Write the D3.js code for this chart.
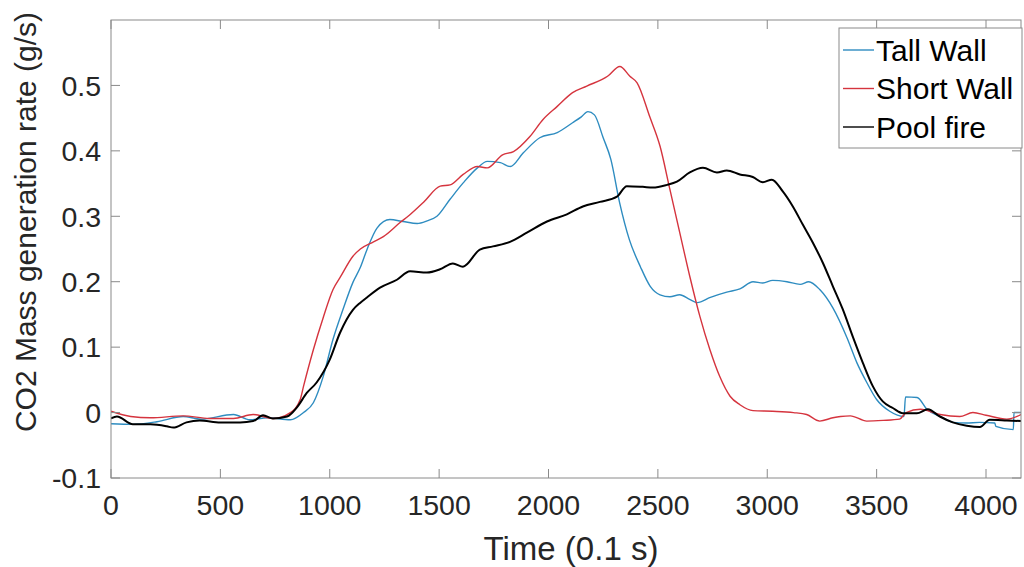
<!DOCTYPE html>
<html>
<head>
<meta charset="utf-8">
<script src="https://cdn.jsdelivr.net/npm/d3@7"></script>
<style>
  body { margin: 0; background: #fff; }
  svg { display: block; font-family: "Liberation Sans", Arial, sans-serif; }
</style>
</head>
<body>
<div id="chart"></div>
<script>
// time in 0.1 s, values in g/s
const tallTime = [0, 100, 210, 330, 410, 560, 635, 715, 820, 880,
  925, 970, 1015, 1060, 1106, 1140, 1170, 1216, 1275, 1335,
  1400, 1445, 1490, 1550, 1610, 1675, 1720, 1780, 1825, 1885,
  1960, 2040, 2110, 2150, 2180, 2210, 2250, 2285, 2325, 2370,
  2420, 2465, 2510, 2555, 2600, 2645, 2680, 2740, 2815, 2875,
  2935, 2980, 3025, 3090, 3150, 3190, 3240, 3300, 3365, 3410,
  3455, 3500, 3560, 3625, 3632, 3685, 3730, 3790, 3850, 3910,
  3970, 4040, 4045, 4125, 4128, 4160];
const tallWall = [-0.017, -0.018, -0.014, -0.006, -0.01, -0.003, -0.011, -0.008, -0.011, 0.0,
  0.015, 0.055, 0.112, 0.157, 0.199, 0.222, 0.249, 0.282, 0.295, 0.292,
  0.289, 0.293, 0.3, 0.326, 0.351, 0.374, 0.384, 0.382, 0.376, 0.397,
  0.42, 0.428, 0.443, 0.452, 0.46, 0.455, 0.42, 0.387, 0.321, 0.264,
  0.223, 0.193, 0.18, 0.177, 0.18, 0.173, 0.168, 0.176, 0.184, 0.189,
  0.2, 0.198, 0.202, 0.2, 0.196, 0.2, 0.188, 0.16, 0.114, 0.076,
  0.046, 0.02, 0.002, -0.006, 0.024, 0.023, 0.005, -0.006, -0.015, -0.016,
  -0.015, -0.016, -0.021, -0.026, 0.0, 0.0];

const shortTime = [0, 90, 180, 330, 450, 560, 650, 740, 820, 865,
  880, 925, 970, 1015, 1050, 1106, 1140, 1200, 1245, 1320,
  1365, 1430, 1505, 1550, 1610, 1675, 1720, 1790, 1840, 1915,
  1975, 2040, 2110, 2175, 2270, 2326, 2372, 2405, 2463, 2510,
  2555, 2600, 2646, 2692, 2738, 2783, 2830, 2875, 2935, 3025,
  3120, 3180, 3240, 3300, 3335, 3380, 3455, 3530, 3605, 3635,
  3700, 3790, 3880, 3940, 4000, 4095, 4160];
const shortWall = [0.002, -0.006, -0.008, -0.005, -0.009, -0.009, -0.003, -0.009, 0.0, 0.02,
  0.04, 0.096, 0.145, 0.188, 0.208, 0.239, 0.25, 0.261, 0.269, 0.29,
  0.302, 0.322, 0.346, 0.348, 0.364, 0.376, 0.374, 0.394, 0.399, 0.422,
  0.448, 0.468, 0.489, 0.499, 0.514, 0.529, 0.514, 0.504, 0.452, 0.407,
  0.341, 0.275, 0.208, 0.147, 0.096, 0.055, 0.025, 0.012, 0.003, 0.002,
  0.0, -0.003, -0.013, -0.008, -0.006, -0.005, -0.013, -0.012, -0.01, 0.0,
  0.005, -0.003, -0.006, 0.0, -0.004, -0.01, -0.003];

const poolTime = [0, 27, 100, 180, 255, 285, 345, 405, 500, 590,
  650, 695, 740, 805, 850, 895, 940, 1000, 1047, 1106,
  1140, 1170, 1230, 1307, 1367, 1444, 1504, 1563, 1609, 1686,
  1746, 1824, 1901, 1993, 2084, 2157, 2235, 2313, 2358, 2431,
  2477, 2541, 2587, 2646, 2706, 2770, 2815, 2875, 2934, 2980,
  3021, 3071, 3117, 3163, 3208, 3254, 3300, 3345, 3391, 3437,
  3483, 3528, 3574, 3620, 3684, 3734, 3789, 3848, 3912, 3972,
  4017, 4095, 4160];
const poolFire = [-0.009, -0.006, -0.018, -0.018, -0.021, -0.023, -0.015, -0.012, -0.015, -0.015,
  -0.013, -0.004, -0.009, -0.006, 0.008, 0.03, 0.046, 0.081, 0.122, 0.157,
  0.168, 0.176, 0.191, 0.203, 0.216, 0.214, 0.219, 0.228, 0.223, 0.249,
  0.254, 0.261, 0.275, 0.292, 0.303, 0.315, 0.322, 0.33, 0.346, 0.345,
  0.344, 0.348, 0.353, 0.367, 0.374, 0.367, 0.37, 0.364, 0.36, 0.352,
  0.356, 0.338, 0.315, 0.287, 0.26, 0.229, 0.193, 0.158, 0.116, 0.076,
  0.04, 0.017, 0.007, -0.001, -0.001, 0.005, -0.006, -0.015, -0.02, -0.022,
  -0.011, -0.012, -0.013];

const xTicks = [0, 500, 1000, 1500, 2000, 2500, 3000, 3500, 4000];
const yTicks = [-0.1, 0, 0.1, 0.2, 0.3, 0.4, 0.5];
const seriesNames = ["Tall Wall", "Short Wall", "Pool fire"];

const W = 1024, H = 567;
const plotLeft = 111, plotRight = 1021, plotTop = 20, plotBottom = 478;
const axisGrey = "#8a8a8a";

const svg = d3.select("#chart").append("svg")
  .attr("width", W)
  .attr("height", H);

const x = d3.scaleLinear().domain([0, 4160]).range([plotLeft, plotRight]);
const y = d3.scaleLinear().domain([-0.1, 0.6]).range([plotBottom, plotTop]);

// series lines
const series = [
  { name: seriesNames[0], t: tallTime, v: tallWall, color: "#2e8cc0", width: 1.4 },
  { name: seriesNames[1], t: shortTime, v: shortWall, color: "#d5343e", width: 1.4 },
  { name: seriesNames[2], t: poolTime, v: poolFire, color: "#000000", width: 2 }
];

const line = d3.line()
  .x(d => x(d[0]))
  .y(d => y(d[1]))
  .curve(d3.curveMonotoneX);

svg.append("defs").append("clipPath").attr("id", "plotclip")
  .append("rect")
  .attr("x", plotLeft).attr("y", plotTop)
  .attr("width", plotRight - plotLeft).attr("height", plotBottom - plotTop);

svg.append("g").attr("clip-path", "url(#plotclip)")
  .selectAll("path")
  .data(series)
  .join("path")
  .attr("fill", "none")
  .attr("stroke", d => d.color)
  .attr("stroke-width", d => d.width)
  .attr("stroke-linejoin", "round")
  .attr("d", d => line(d.t.map((t, i) => [t, d.v[i]])));

// box + inward ticks on all four sides
svg.append("rect")
  .attr("x", plotLeft).attr("y", plotTop)
  .attr("width", plotRight - plotLeft).attr("height", plotBottom - plotTop)
  .attr("fill", "none")
  .attr("stroke", axisGrey)
  .attr("stroke-width", 1);

const tickLen = 9;
const axes = svg.append("g").attr("stroke", axisGrey).attr("stroke-width", 1);
xTicks.forEach(t => {
  axes.append("line").attr("x1", x(t)).attr("x2", x(t)).attr("y1", plotBottom).attr("y2", plotBottom - tickLen);
  axes.append("line").attr("x1", x(t)).attr("x2", x(t)).attr("y1", plotTop).attr("y2", plotTop + tickLen);
});
yTicks.forEach(v => {
  axes.append("line").attr("x1", plotLeft).attr("x2", plotLeft + tickLen).attr("y1", y(v)).attr("y2", y(v));
  axes.append("line").attr("x1", plotRight).attr("x2", plotRight - tickLen).attr("y1", y(v)).attr("y2", y(v));
});

// tick labels
svg.append("g")
  .selectAll("text")
  .data(xTicks)
  .join("text")
  .attr("x", d => x(d))
  .attr("y", 515)
  .attr("text-anchor", "middle")
  .attr("fill", "#262626")
  .style("font-size", "28.5px")
  .text(d => d);

svg.append("g")
  .selectAll("text")
  .data(yTicks)
  .join("text")
  .attr("x", plotLeft - 10)
  .attr("y", d => y(d))
  .attr("dy", "0.36em")
  .attr("text-anchor", "end")
  .attr("fill", "#262626")
  .style("font-size", "28.5px")
  .text(d => d);

// axis titles
svg.append("text")
  .attr("x", (plotLeft + plotRight) / 2 + 5)
  .attr("y", 560)
  .attr("text-anchor", "middle")
  .attr("fill", "#262626")
  .style("font-size", "33px")
  .text("Time (0.1 s)");

svg.append("text")
  .attr("transform", "translate(36,222) rotate(-90)")
  .attr("text-anchor", "middle")
  .attr("fill", "#262626")
  .style("font-size", "30px")
  .text("CO2 Mass generation rate (g/s)");

// legend
const legend = svg.append("g");
legend.append("rect")
  .attr("x", 839).attr("y", 28)
  .attr("width", 183).attr("height", 120)
  .attr("fill", "#fff")
  .attr("stroke", axisGrey)
  .attr("stroke-width", 1);

series.forEach((s, i) => {
  const cy = 50 + i * 38.5;
  legend.append("line")
    .attr("x1", 843).attr("x2", 874)
    .attr("y1", cy).attr("y2", cy)
    .attr("stroke", s.color)
    .attr("stroke-width", 1.4);
  legend.append("text")
    .attr("x", 876)
    .attr("y", cy)
    .attr("dy", "0.36em")
    .attr("fill", "#000")
    .style("font-size", "30px")
    .text(s.name);
});
</script>
</body>
</html>
